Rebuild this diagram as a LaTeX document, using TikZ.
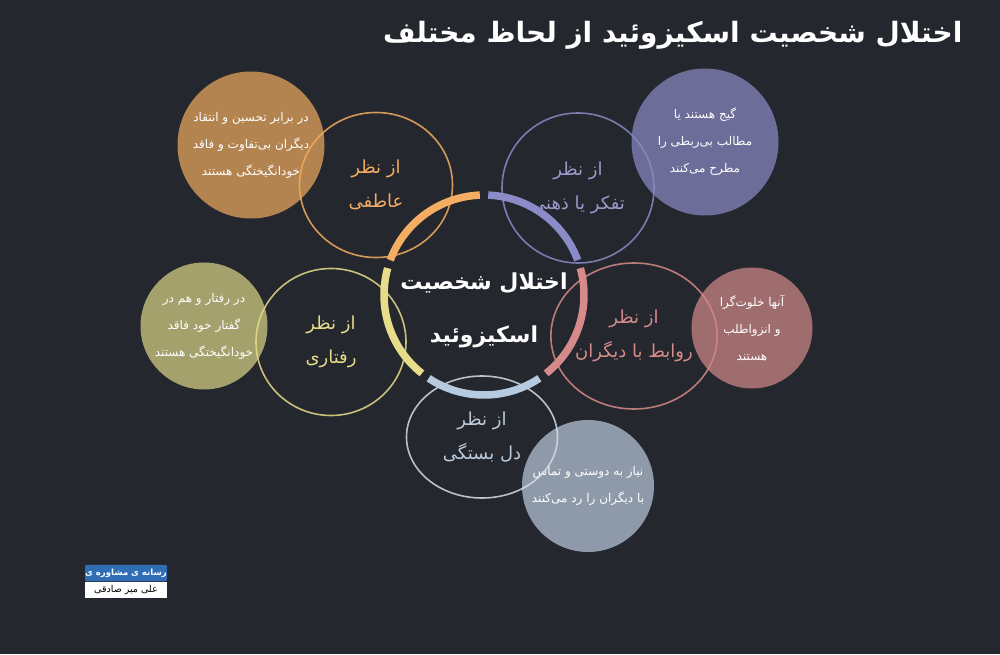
\documentclass[tikz,border=0pt]{standalone}
\usepackage{fontspec}
\usetikzlibrary{shapes.geometric, positioning}
\newfontfamily\fa[Script=Arabic]{DejaVu Sans}
\TeXXeTstate=1
\newcommand{\fatxt}[1]{\beginR #1\endR}

\definecolor{bgDark}{HTML}{24272D}
\definecolor{ringOrange}{HTML}{F4AD62}
\definecolor{ringPurple}{HTML}{8A8BC7}
\definecolor{ringPink}{HTML}{D68A89}
\definecolor{ringBlue}{HTML}{B7CBE0}
\definecolor{ringYellow}{HTML}{E6DC89}
\definecolor{lensBlue}{HTML}{D5DDE5}
\definecolor{txtPurple}{HTML}{9A9BCB}
\definecolor{txtBlue}{HTML}{BCCBDB}
\definecolor{blobOrange}{HTML}{B3844F}
\definecolor{blobPurple}{HTML}{6D6D99}
\definecolor{blobPink}{HTML}{A06D6E}
\definecolor{blobOlive}{HTML}{A4A16D}
\definecolor{blobBlue}{HTML}{8E9AA9}
\definecolor{badgeBlue}{HTML}{2F6DB5}

\begin{document}
\begin{tikzpicture}[x=1pt, y=1pt,
    lens/.style={ellipse, draw, line width=1.6pt, draw opacity=0.85, inner sep=0pt,
      align=center, font=\fa\fontsize{18}{34}\selectfont},
    blob/.style={circle, inner sep=0pt, align=center, text=white,
      font=\fa\fontsize{12}{27}\selectfont},
    ring/.style={line width=7.5pt},
    badge/.style={minimum width=82pt, minimum height=16.5pt, inner sep=0pt,
      font=\fa\fontsize{9.5}{11}\selectfont}]
    \fill[bgDark] (0,0) rectangle (1000,654);
    \useasboundingbox (0,0) rectangle (1000,654);

    % Titulo
    \node[anchor=east, text=white, font=\fa\bfseries\fontsize{28}{34}\selectfont]
      (title) at (966,619) {\fatxt{اختلال شخصیت اسکیزوئید از لحاظ مختلف}};

    % Circulos llenos
    \node[blob, fill=blobOrange, minimum size=147pt] (emoNote) at (251,509)
      {\fatxt{در برابر تحسین و انتقاد}\\ \fatxt{دیگران بی^^^^200cتفاوت و فاقد}\\ \fatxt{خودانگیختگی هستند}};
    \node[blob, fill=blobPurple, minimum size=147pt] (mindNote) at (705,512)
      {\fatxt{گیج هستند یا}\\ \fatxt{مطالب بی^^^^200cربطی را}\\ \fatxt{مطرح می^^^^200cکنند}};
    \node[blob, fill=blobPink, minimum size=121pt] (socNote) at (752,326)
      {\fatxt{آنها خلوت^^^^200cگرا}\\ \fatxt{و انزواطلب}\\ \fatxt{هستند}};
    \node[blob, fill=blobOlive, minimum size=127pt] (actNote) at (204,328)
      {\fatxt{در رفتار و هم در}\\ \fatxt{گفتار خود فاقد}\\ \fatxt{خودانگیختگی هستند}};
    \node[blob, fill=blobBlue, minimum size=132pt] (bondNote) at (588,168)
      {\fatxt{نیاز به دوستی و تماس}\\ \fatxt{با دیگران را رد می^^^^200cکنند}};

    % Circulos de contorno
    \node[lens, ringOrange, minimum width=153pt, minimum height=145pt] (emo) at (376,469)
      {\fatxt{از نظر}\\ \fatxt{عاطفی}};
    \node[lens, ringPurple, text=txtPurple, minimum width=152pt, minimum height=150pt] (mind) at (578,466)
      {\fatxt{از نظر}\\ \fatxt{تفکر یا ذهنی}};
    \node[lens, ringPink, minimum width=154pt, minimum height=146pt] (soc) at (634,318)
      {\fatxt{از نظر}\\ \fatxt{روابط با دیگران}};
    \node[lens, lensBlue, text=txtBlue, minimum width=151pt, minimum height=122pt] (bond) at (482,217)
      {\fatxt{از نظر}\\ \fatxt{دل بستگی}};
    \node[lens, ringYellow, minimum width=150pt, minimum height=147pt] (act) at (331,312)
      {\fatxt{از نظر}\\ \fatxt{رفتاری}};

    % Anillo central
    \coordinate (hub) at (484,359);
    \foreach \a/\c in {90/ringOrange, 162/ringYellow, 234/ringBlue, 306/ringPink, 18/ringPurple}
      \draw[ring, \c] ([shift={(\a+2.4:100)}]hub) arc[start angle=\a+2.4, end angle=\a+69.6, radius=100];
    \node[align=center, text=white, font=\fa\bfseries\fontsize{22}{53}\selectfont] (core) at (484,344)
      {\fatxt{اختلال شخصیت}\\ \fatxt{اسکیزوئید}};

    % Logo
    \node[badge, fill=badgeBlue, text=white, rounded corners=2pt,
      font=\fa\bfseries\fontsize{8.5}{11}\selectfont] (logoTop) at (126,81)
      {\fatxt{رسانه ی مشاوره ی}};
    \node[badge, fill=white, text=black, below=0pt of logoTop] (logoBottom)
      {\fatxt{علی میر صادقی}};
\end{tikzpicture}
\end{document}
